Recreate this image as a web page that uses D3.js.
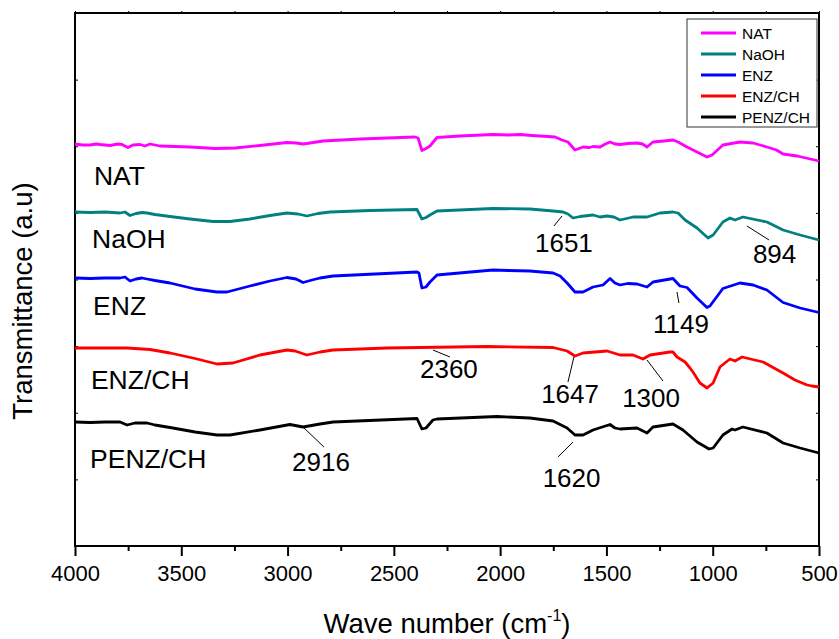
<!DOCTYPE html>
<html>
<head>
<meta charset="utf-8">
<script src="https://cdn.jsdelivr.net/npm/d3@7"></script>
<style>
body { margin: 0; background: #fff; }
text { font-family: "Liberation Sans", Arial, sans-serif; fill: #000; }
</style>
</head>
<body>
<div class="ftir"></div>
<script>
var width = 839,
    height = 639;

// spectra: [wave number (cm-1), transmittance (a.u., stacked)]
var nat = [[4000,402],[3965,401],[3929,401],[3900,402],[3882,401.5],[3859,401],[3835,400.5],[3798,402],[3779,401.5],[3751,398.5],[3727,401],[3694,401.5],[3671,400],[3647,402],[3600,400],[3530,399.5],[3459,399],[3341,397.5],[3247,398],[3130,400.5],[3003,403.5],[2960,403],[2927,402],[2894,403],[2833,405],[2659,407],[2401,409],[2386,408],[2368,395.5],[2353,397],[2330,400],[2297,408.5],[2189,410],[2034,411.5],[1960,411],[1907,411.5],[1850,410.5],[1812,410],[1775,409.5],[1742,409],[1709,406],[1681,404],[1648,396],[1610,399],[1580,398.5],[1563,399.5],[1530,399],[1505,402],[1483,404],[1460,402],[1436,401.5],[1400,402.5],[1356,403],[1330,402],[1309,399],[1281,404],[1230,405],[1187,406],[1163,404],[1121,399],[1074,394],[1027,389],[1003,391],[952,401],[872,404],[810,403],[745,399],[700,396],[669,392],[603,390],[500,385]];

var naoh = [[4000,334],[3929,333.5],[3859,334],[3788,333],[3765,334],[3741,330.5],[3713,332.5],[3685,333.5],[3661,333],[3624,331.5],[3553,329.5],[3459,327],[3351,324.5],[3271,324.5],[3177,327],[3083,330.5],[3003,333],[2951,332],[2909,330],[2857,332.5],[2800,334],[2612,335.5],[2391,336.5],[2368,327],[2349,328.5],[2330,331],[2297,335],[2034,337.5],[1860,337],[1751,335],[1704,334],[1681,332],[1657,328],[1624,329.5],[1563,331],[1530,329],[1497,330],[1465,329],[1436,326],[1375,329],[1309,329],[1248,333],[1187,334],[1163,333],[1130,326],[1074,318],[1022,308],[998,311],[952,324],[919,328],[895,326],[858,329],[745,324],[669,316],[589,311],[500,306]];

var enz = [[4000,268],[3929,267.5],[3859,268],[3788,268],[3765,269],[3741,265],[3713,267],[3685,268],[3661,267],[3624,265.5],[3553,263],[3435,257],[3332,254],[3285,254],[3177,260],[3083,265],[3003,268.5],[2960,267],[2927,263.5],[2885,266],[2847,268],[2786,270],[2391,274],[2382,273],[2368,258],[2349,259],[2330,264],[2297,271],[2034,276],[1960,275.5],[1860,275],[1751,273],[1718,270],[1685,263],[1648,254],[1610,254],[1563,259],[1516,261],[1483,267.5],[1460,263],[1436,261],[1400,262.5],[1356,262],[1309,259],[1281,264],[1187,267.5],[1154,260],[1121,258.5],[1074,248],[1027,238.5],[1013,240],[952,257.5],[872,263],[810,261],[745,256],[669,243.5],[589,238],[500,233.5]];

var enzch = [[4000,198],[3882,198],[3755,198],[3647,196.5],[3553,193],[3435,187.5],[3332,182],[3257,183],[3130,191],[3003,196],[2965,195],[2909,191],[2847,194],[2786,196],[2532,198],[2377,198.5],[2062,199.5],[1751,198.5],[1685,195],[1648,190],[1610,193],[1497,195],[1436,191],[1375,191],[1328,187],[1295,191],[1201,194],[1187,194],[1168,189],[1130,184],[1107,178],[1093,174],[1060,163],[1027,158],[998,163],[966,179],[919,187],[895,185],[862,189],[763,184],[669,173],[613,166],[556,161],[533,160],[500,159]];

var penzch = [[4000,124],[3929,123.5],[3859,124],[3788,124],[3755,121],[3718,123],[3661,123],[3624,121],[3553,118.5],[3435,114],[3332,111],[3271,111],[3130,116],[2989,121.5],[2927,119],[2847,122],[2786,124],[2391,127.5],[2368,117],[2349,118],[2316,126],[2297,127],[2015,129.5],[1860,128],[1751,125],[1685,118],[1648,111],[1610,111],[1563,116],[1483,121.5],[1460,118],[1436,117],[1356,118],[1309,113],[1281,119],[1187,122],[1140,116],[1074,104],[1017,97],[998,98],[952,111],[909,117],[895,116],[858,119],[745,113],[669,103],[589,98],[500,93]];

var names = ["NAT", "NaOH", "ENZ", "ENZ/CH", "PENZ/CH"];
var colors = ["#ff00ff", "#008080", "#0000ff", "#ff0000", "#000000"];
var spectra = [nat, naoh, enz, enzch, penzch];

// where each curve name sits [wave number, a.u.]
var nameAt = [[3911,361],[3920,298],[3915,231],[3925,157],[3929,78]];

var xMajor = [4000, 3500, 3000, 2500, 2000, 1500, 1000, 500];
var xMinor = [3750, 3250, 2750, 2250, 1750, 1250, 750];

// peak labels: text position, leader line start/end
var peaks = [
    {label: "1651", tx: 1700, ty: 294, x1: 1709, y1: 330, x2: 1747, y2: 320},
    {label: "894",  tx: 709,  ty: 283, x1: 839,  y1: 320, x2: 735,  y2: 306},
    {label: "1149", tx: 1149, ty: 213, x1: 1168, y1: 254, x2: 1159, y2: 243},
    {label: "2360", tx: 2241, ty: 168, x1: 2316, y1: 196, x2: 2236, y2: 189},
    {label: "1647", tx: 1671, ty: 143, x1: 1653, y1: 189, x2: 1681, y2: 164},
    {label: "1300", tx: 1290, ty: 139, x1: 1309, y1: 186, x2: 1234, y2: 165},
    {label: "1620", tx: 1664, ty: 59,  x1: 1657, y1: 104, x2: 1728, y2: 89},
    {label: "2916", tx: 2843, ty: 75,  x1: 2932, y1: 120, x2: 2829, y2: 99}
];

var plotL = 75, plotR = 819, plotT = 13, plotB = 546;

var x = d3.scaleLinear().domain([4000, 500]).range([plotL, plotR]);
var y = d3.scaleLinear().domain([0, 533]).range([plotB, plotT]);

var svg = d3.select(".ftir").append("svg")
    .attr("width", width)
    .attr("height", height);

// bottom axis, major + minor ticks
var xAxis = svg.append("g")
    .attr("transform", "translate(0," + plotB + ")")
    .call(d3.axisBottom(x).tickValues(xMajor).tickSize(10).tickPadding(9).tickFormat(d3.format("d")));
xAxis.select(".domain").remove();
xAxis.selectAll("line").attr("stroke-width", 2);
xAxis.selectAll("text")
    .style("font-size", "22px")
    .style("font-family", "'Liberation Sans', Arial, sans-serif");

var xAxisMinor = svg.append("g")
    .attr("transform", "translate(0," + plotB + ")")
    .call(d3.axisBottom(x).tickValues(xMinor).tickSize(5).tickFormat(""));
xAxisMinor.select(".domain").remove();
xAxisMinor.selectAll("line").attr("stroke-width", 2);

// little ticks on top edge
var topAxis = svg.append("g")
    .attr("transform", "translate(0," + plotT + ")")
    .call(d3.axisTop(x).tickValues(xMajor.concat(xMinor)).tickSize(2).tickFormat(""));
topAxis.select(".domain").remove();

// little inward ticks on the sides
var yTicks = d3.range(1, 8).map(function (i) { return i * 533 / 8; });
var yLeft = svg.append("g")
    .attr("transform", "translate(" + plotL + ",0)")
    .call(d3.axisRight(y).tickValues(yTicks).tickSize(3).tickFormat(""));
yLeft.select(".domain").remove();
var yRight = svg.append("g")
    .attr("transform", "translate(" + plotR + ",0)")
    .call(d3.axisLeft(y).tickValues(yTicks).tickSize(3).tickFormat(""));
yRight.select(".domain").remove();

// frame
svg.append("rect")
    .attr("x", plotL)
    .attr("y", plotT)
    .attr("width", plotR - plotL)
    .attr("height", plotB - plotT)
    .attr("fill", "none")
    .attr("stroke", "#000")
    .attr("stroke-width", 2);

var line = d3.line()
    .x(function (d) { return x(d[0]); })
    .y(function (d) { return y(d[1]); });

svg.selectAll(".spec")
    .data(spectra)
    .enter()
    .append("path")
    .attr("class", "spec")
    .attr("d", line)
    .attr("fill", "none")
    .attr("stroke", function (d, i) { return colors[i]; })
    .attr("stroke-width", 2.8)
    .attr("stroke-linejoin", "round");

// curve names
svg.selectAll(".name")
    .data(names)
    .enter()
    .append("text")
    .attr("class", "name")
    .attr("x", function (d, i) { return x(nameAt[i][0]); })
    .attr("y", function (d, i) { return y(nameAt[i][1]); })
    .style("font-size", "26.5px")
    .text(function (d) { return d; });

// peak labels
var pk = svg.selectAll(".peak")
    .data(peaks)
    .enter()
    .append("g")
    .attr("class", "peak");
pk.append("line")
    .attr("x1", function (d) { return x(d.x1); })
    .attr("y1", function (d) { return y(d.y1); })
    .attr("x2", function (d) { return x(d.x2); })
    .attr("y2", function (d) { return y(d.y2); })
    .attr("stroke", "#000")
    .attr("stroke-width", 1);
pk.append("text")
    .attr("x", function (d) { return x(d.tx); })
    .attr("y", function (d) { return y(d.ty); })
    .style("text-anchor", "middle")
    .style("font-size", "26px")
    .text(function (d) { return d.label; });

// axis titles
var xt = svg.append("text")
    .attr("x", 447)
    .attr("y", 633)
    .style("text-anchor", "middle")
    .style("font-size", "27.5px");
xt.append("tspan").text("Wave number (cm");
xt.append("tspan").attr("dy", -12).style("font-size", "16px").text("-1");
xt.append("tspan").attr("dy", 12).text(")");

svg.append("text")
    .attr("transform", "translate(32,301) rotate(-90)")
    .style("text-anchor", "middle")
    .style("font-size", "27.5px")
    .text("Transmittance (a.u)");

// legend
var legend = svg.append("g").attr("transform", "translate(687,19)");
legend.append("rect")
    .attr("width", 130)
    .attr("height", 108)
    .attr("fill", "#fff")
    .attr("stroke", "#333")
    .attr("stroke-width", 1);
var li = legend.selectAll(".li")
    .data(names)
    .enter()
    .append("g")
    .attr("transform", function (d, i) { return "translate(0," + (14 + i * 21) + ")"; });
li.append("line")
    .attr("x1", 14)
    .attr("x2", 49)
    .attr("stroke", function (d, i) { return colors[i]; })
    .attr("stroke-width", 3);
li.append("text")
    .attr("x", 55)
    .attr("y", 5.5)
    .style("font-size", "15.5px")
    .text(function (d) { return d; });
</script>
</body>
</html>
